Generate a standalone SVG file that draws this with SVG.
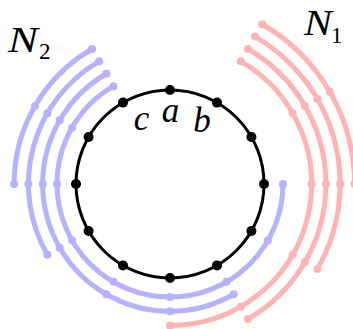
<svg xmlns="http://www.w3.org/2000/svg" width="353" height="329" viewBox="0 0 353 329">
<style>
.blue{fill:none;stroke:#b3b3ff;stroke-width:5;stroke-linecap:round}
.red{fill:none;stroke:#ffb3b3;stroke-width:5;stroke-linecap:round}
.bd{fill:#b3b3ff}
.rd{fill:#ffb3b3}
.ring{fill:none;stroke:#000;stroke-width:3}
.kd{fill:#000}
.lbl{font-family:"Liberation Serif","Times New Roman",serif;font-style:italic;font-size:35px;fill:#000}
.big{font-size:35px}
.sub{font-family:"Liberation Serif","Times New Roman",serif;font-size:23px;fill:#000}
</style>
<g id="connectors">
<g id="blue-arcs">
<path class="blue" d="M92.05,48.99 A155.9,155.9 0 0 0 14.1,184"/>
<path class="blue" d="M99.2,61.37 A141.6,141.6 0 0 0 47.37,254.8"/>
<path class="blue" d="M106.35,73.75 A127.3,127.3 0 0 0 42.7,184 A127.3,127.3 0 0 0 233.65,294.25"/>
<path class="blue" d="M113.5,86.14 A113,113 0 0 0 57,184 A113,113 0 0 0 283,184"/>
</g>
<g id="red-arcs">
<path class="red" d="M262.25,24.22 A184.5,184.5 0 0 1 354.5,184"/>
<path class="red" d="M255.1,36.61 A170.2,170.2 0 0 1 317.39,269.1"/>
<path class="red" d="M247.95,48.99 A155.9,155.9 0 0 1 247.95,319.01"/>
<path class="red" d="M240.8,61.37 A141.6,141.6 0 0 1 170,325.6"/>
</g>
<g id="ring">
<circle class="ring" cx="170" cy="184" r="94"/>
</g>
</g>
<g id="N2-points">
<circle class="bd" cx="92.05" cy="48.99" r="4"/>
<circle class="bd" cx="34.99" cy="106.05" r="4"/>
<circle class="bd" cx="14.1" cy="184" r="4"/>
<circle class="bd" cx="99.2" cy="61.37" r="4"/>
<circle class="bd" cx="47.37" cy="113.2" r="4"/>
<circle class="bd" cx="28.4" cy="184" r="4"/>
<circle class="bd" cx="47.37" cy="254.8" r="4"/>
<circle class="bd" cx="106.35" cy="73.75" r="4"/>
<circle class="bd" cx="59.75" cy="120.35" r="4"/>
<circle class="bd" cx="42.7" cy="184" r="4"/>
<circle class="bd" cx="59.75" cy="247.65" r="4"/>
<circle class="bd" cx="106.35" cy="294.25" r="4"/>
<circle class="bd" cx="170" cy="311.3" r="4"/>
<circle class="bd" cx="233.65" cy="294.25" r="4"/>
<circle class="bd" cx="113.5" cy="86.14" r="4"/>
<circle class="bd" cx="72.14" cy="127.5" r="4"/>
<circle class="bd" cx="57" cy="184" r="4"/>
<circle class="bd" cx="72.14" cy="240.5" r="4"/>
<circle class="bd" cx="113.5" cy="281.86" r="4"/>
<circle class="bd" cx="170" cy="297" r="4"/>
<circle class="bd" cx="226.5" cy="281.86" r="4"/>
<circle class="bd" cx="267.86" cy="240.5" r="4"/>
<circle class="bd" cx="283" cy="184" r="4"/>
</g>
<g id="N1-points">
<circle class="rd" cx="262.25" cy="24.22" r="4"/>
<circle class="rd" cx="329.78" cy="91.75" r="4"/>
<circle class="rd" cx="354.5" cy="184" r="4"/>
<circle class="rd" cx="255.1" cy="36.61" r="4"/>
<circle class="rd" cx="317.39" cy="98.9" r="4"/>
<circle class="rd" cx="340.2" cy="184" r="4"/>
<circle class="rd" cx="317.39" cy="269.1" r="4"/>
<circle class="rd" cx="247.95" cy="48.99" r="4"/>
<circle class="rd" cx="305.01" cy="106.05" r="4"/>
<circle class="rd" cx="325.9" cy="184" r="4"/>
<circle class="rd" cx="305.01" cy="261.95" r="4"/>
<circle class="rd" cx="247.95" cy="319.01" r="4"/>
<circle class="rd" cx="240.8" cy="61.37" r="4"/>
<circle class="rd" cx="292.63" cy="113.2" r="4"/>
<circle class="rd" cx="311.6" cy="184" r="4"/>
<circle class="rd" cx="292.63" cy="254.8" r="4"/>
<circle class="rd" cx="240.8" cy="306.63" r="4"/>
<circle class="rd" cx="170" cy="325.6" r="4"/>
</g>
<g id="ring-points">
<circle class="kd" cx="264" cy="184" r="5"/>
<circle class="kd" cx="251.41" cy="137" r="5"/>
<circle class="kd" cx="217" cy="102.59" r="5"/>
<circle class="kd" cx="170" cy="90" r="5"/>
<circle class="kd" cx="123" cy="102.59" r="5"/>
<circle class="kd" cx="88.59" cy="137" r="5"/>
<circle class="kd" cx="76" cy="184" r="5"/>
<circle class="kd" cx="88.59" cy="231" r="5"/>
<circle class="kd" cx="123" cy="265.41" r="5"/>
<circle class="kd" cx="170" cy="278" r="5"/>
<circle class="kd" cx="217" cy="265.41" r="5"/>
<circle class="kd" cx="251.41" cy="231" r="5"/>
</g>
<g id="label-a"><text class="lbl" x="170.5" y="122" text-anchor="middle">a</text></g>
<g id="label-b"><text class="lbl" x="202" y="132" text-anchor="middle">b</text></g>
<g id="label-c"><text class="lbl" x="141.5" y="130" text-anchor="middle">c</text></g>
<g id="label-N2"><text class="lbl big" x="8" y="52" textLength="30" lengthAdjust="spacingAndGlyphs">N</text><text class="sub" x="39" y="59">2</text></g>
<g id="label-N1"><text class="lbl big" x="304" y="35" textLength="28" lengthAdjust="spacingAndGlyphs">N</text><text class="sub" x="331" y="43">1</text></g>
</svg>
